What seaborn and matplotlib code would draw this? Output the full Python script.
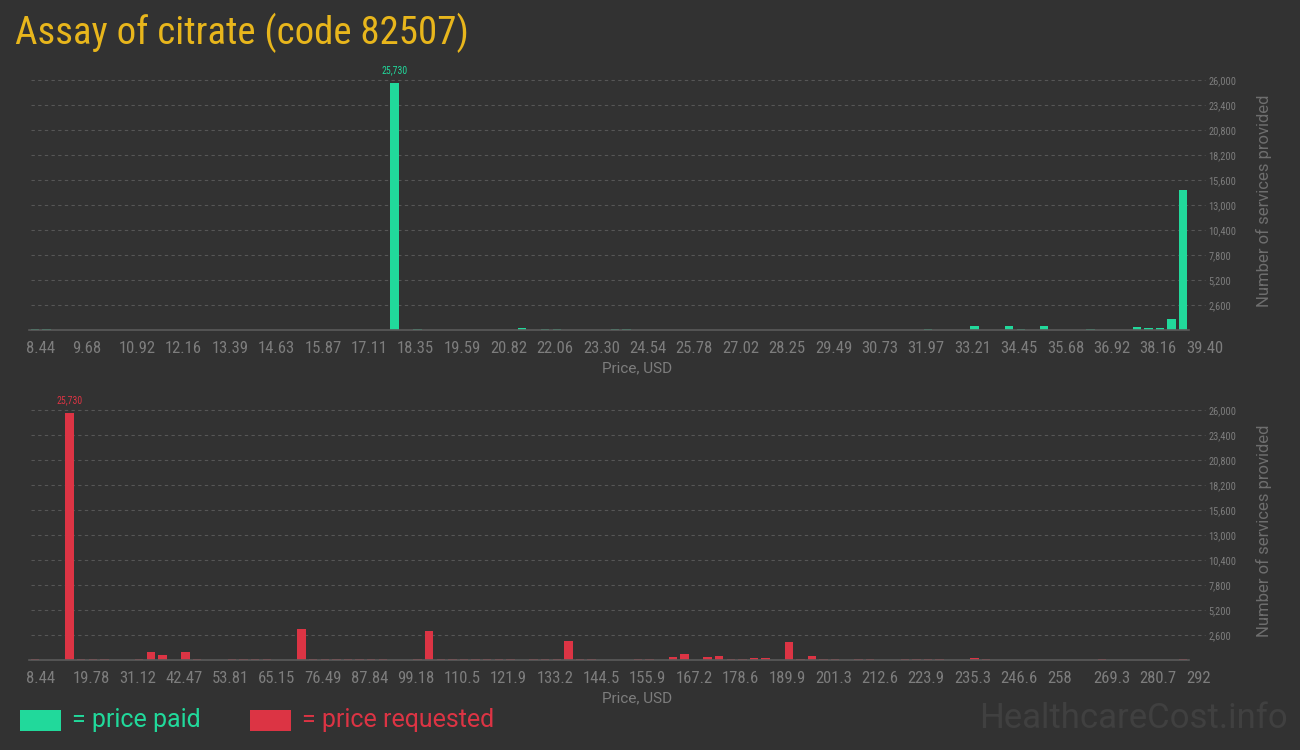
"""
Assay of citrate (code 82507): price paid vs price requested histograms.

Output:
  out.png
"""

import numpy as np
import pandas as pd
import matplotlib
matplotlib.use("Agg")
import matplotlib.pyplot as plt
from matplotlib.patches import Rectangle
import matplotlib.transforms as mtransforms
import seaborn as sns


BG = "#323232"
GREEN = "#21d99b"
RED = "#dc3444"
GOLD = "#e8b61c"
GREY = "#7d7d7d"
GRID = "#565656"

NARROW = ["Roboto Condensed", "Roboto", "DejaVu Sans"]
MAIN = ["Roboto", "DejaVu Sans"]

N_BINS = 100

# price paid histogram (bin index -> number of services)
paid_range = (8.44, 39.40)
paid_bins = [0, 1, 31, 33, 42, 44, 45, 50, 51, 77, 81, 84, 85, 87, 91,
             95, 96, 97, 98, 99]
paid_counts = [100, 100, 25730, 100, 200, 100, 100, 100, 100, 100, 400, 400,
               100, 400, 100, 300, 200, 200, 1150, 14560]
paid_ticks = ["8.44", "9.68", "10.92", "12.16", "13.39", "14.63", "15.87",
              "17.11", "18.35", "19.59", "20.82", "22.06", "23.30", "24.54",
              "25.78", "27.02", "28.25", "29.49", "30.73", "31.97", "33.21",
              "34.45", "35.68", "36.92", "38.16", "39.40"]

# price requested histogram
req_range = (8.44, 292.0)
req_bins = [0, 3, 4, 5, 6, 9, 10, 11, 13, 14, 17, 18, 19, 20, 23, 24, 25,
            26, 27, 28, 29, 30, 33, 34, 35, 36, 37, 38, 39, 40, 41, 43, 44,
            45, 46, 47, 48, 52, 53, 55, 56, 58, 59, 60, 61, 62, 63, 65, 66,
            67, 68, 69, 71, 72, 75, 76, 77, 78, 81, 82, 92, 99]
req_counts = [100, 25730, 100, 100, 100, 100, 800, 550, 800, 100, 100, 100,
              150, 100, 3250, 100, 100, 100, 150, 100, 100, 100, 150, 3050,
              100, 150, 100, 100, 100, 150, 100, 100, 100, 100, 1950, 150,
              150, 100, 100, 350, 600, 280, 380, 100, 100, 180, 240, 1840,
              100, 450, 100, 100, 140, 100, 100, 100, 100, 140, 250, 100,
              100, 100]
req_ticks = ["8.44", "19.78", "31.12", "42.47", "53.81", "65.15", "76.49",
             "87.84", "99.18", "110.5", "121.9", "133.2", "144.5", "155.9",
             "167.2", "178.6", "189.9", "201.3", "212.6", "223.9", "235.3",
             "246.6", "258", "269.3", "280.7", "292"]

y_ticks = list(range(2600, 26001, 2600))


def _style():
    sns.set_theme(style="dark")
    plt.rcParams.update({
        "figure.dpi": 100,
        "savefig.dpi": 100,
        "figure.facecolor": BG,
        "axes.facecolor": BG,
        "savefig.facecolor": BG,
    })
    plt.rcParams["font.family"] = MAIN


def draw_hist(ax, rng, bins, counts, ticks, color):
    lo, hi = rng
    edges = np.linspace(lo, hi, N_BINS + 1)
    width = edges[1] - edges[0]
    df = pd.DataFrame({
        "price": [lo + (i + 0.5) * width for i in bins],
        "count": counts,
    })
    sns.histplot(data=df, x="price", weights="count", bins=edges.tolist(),
                 shrink=0.74, color=color, alpha=1, linewidth=0, ax=ax)

    ax.set_xlim(lo, hi)
    ax.set_ylim(0, 26000)
    ax.set_facecolor(BG)
    for side in ["top", "left", "right"]:
        ax.spines[side].set_visible(False)
    ax.spines["bottom"].set_color("#5a5a5a")
    ax.spines["bottom"].set_linewidth(1.2)

    # dashed grid, running a bit past the plot into the label column
    ax.hlines(y_ticks, 0.002, 1.014, transform=ax.get_yaxis_transform(),
              colors=GRID, linestyles=(0, (3, 3)), linewidth=0.8,
              clip_on=False, zorder=0)

    ax.yaxis.tick_right()
    ax.set_yticks(y_ticks)
    ax.set_yticklabels([f"{v:,}" for v in y_ticks], family=NARROW,
                       fontsize=7.5, color=GREY)
    ax.tick_params(axis="y", length=0, pad=14)
    ax.set_ylabel("")

    ax.set_xticks(np.linspace(lo, hi, len(ticks)))
    ax.set_xticks(edges, minor=True)
    ax.set_xticklabels(ticks, family=NARROW, fontsize=12, color=GREY)
    ax.tick_params(axis="x", which="major", direction="out", length=5,
                   width=1, color="#666666", pad=3)
    ax.tick_params(axis="x", which="minor", direction="out", length=3,
                   width=1, color="#555555")
    shift = mtransforms.ScaledTranslation(-3 / 100, 0, ax.figure.dpi_scale_trans)
    for lab in ax.get_xticklabels():
        lab.set_ha("left")
        lab.set_transform(lab.get_transform() + shift)

    ax.set_xlabel("")
    ax.text(0.524, -0.155, "Price, USD", transform=ax.transAxes,
            ha="center", va="center", fontsize=11, color=GREY)
    ax.text(1.065, 0.515, "Number of services provided", transform=ax.transAxes,
            rotation=90, ha="center", va="center", fontsize=12,
            color="#6e6e6e")

    top = int(np.argmax(counts))
    ax.annotate(f"{counts[top]:,}",
                xy=(lo + (bins[top] + 0.5) * width, counts[top]),
                xytext=(0, 5), textcoords="offset points",
                ha="center", va="bottom", family=NARROW, fontsize=7,
                color=color)


def main():
    _style()
    fig = plt.figure(figsize=(13, 7.5))
    ax_paid = fig.add_axes([29 / 1300, 1 - 330 / 750, 1160 / 1300, 250 / 750])
    ax_req = fig.add_axes([29 / 1300, 1 - 660 / 750, 1160 / 1300, 250 / 750])

    draw_hist(ax_paid, paid_range, paid_bins, paid_counts, paid_ticks, GREEN)
    draw_hist(ax_req, req_range, req_bins, req_counts, req_ticks, RED)

    fig.text(15 / 1300, 1 - 33 / 750, "Assay of citrate (code 82507)",
             ha="left", va="center", fontsize=28, color=GOLD, family=NARROW)

    # legend
    fig.add_artist(Rectangle((20 / 1300, 1 - 731 / 750), 41 / 1300, 21 / 750,
                             transform=fig.transFigure, color=GREEN, lw=0))
    fig.text(72 / 1300, 1 - 720 / 750, "= price paid", ha="left",
             va="center", fontsize=18, color=GREEN)
    fig.add_artist(Rectangle((250 / 1300, 1 - 731 / 750), 41 / 1300, 21 / 750,
                             transform=fig.transFigure, color=RED, lw=0))
    fig.text(302 / 1300, 1 - 720 / 750, "= price requested", ha="left",
             va="center", fontsize=18, color=RED)

    fig.text(1288 / 1300, 1 - 719 / 750, "HealthcareCost.info", ha="right",
             va="center", fontsize=25, color="#404040")

    fig.savefig("out.png")
    plt.close(fig)


if __name__ == "__main__":
    main()
